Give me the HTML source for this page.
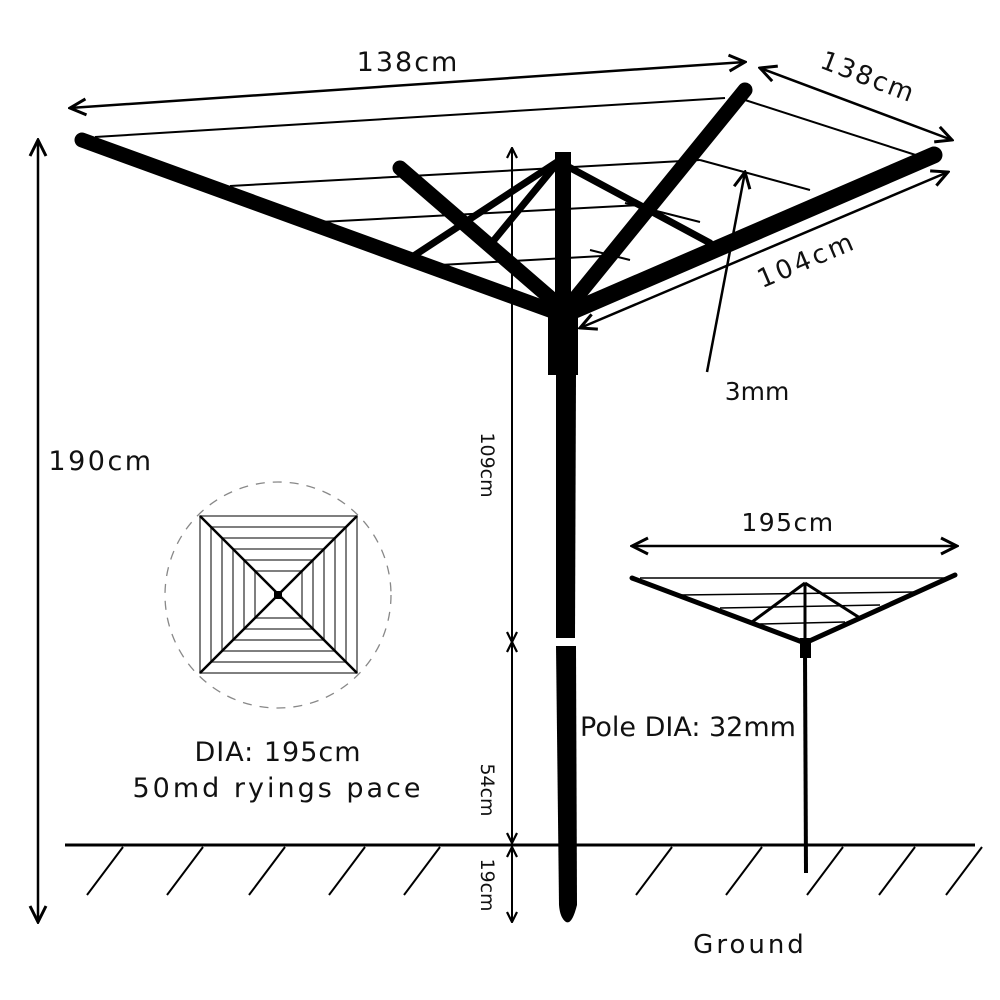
<!DOCTYPE html>
<html><head><meta charset="utf-8"><style>
html,body{margin:0;padding:0;background:#fff}
svg{display:block}
text{font-family:"DejaVu Sans","Liberation Sans",sans-serif;fill:#111}
</style></head><body>
<svg width="1000" height="1000" viewBox="0 0 1000 1000" xmlns="http://www.w3.org/2000/svg">
<defs>
<marker id="a" viewBox="0 0 12 12" refX="11" refY="6" markerWidth="12" markerHeight="12" orient="auto-start-reverse" markerUnits="userSpaceOnUse">
<path d="M1,1 L11,6 L1,11" fill="none" stroke="#000" stroke-width="2.2"/></marker>
<marker id="b" viewBox="0 0 20 20" refX="18" refY="10" markerWidth="20" markerHeight="20" orient="auto-start-reverse" markerUnits="userSpaceOnUse">
<path d="M2,2 L18,10 L2,18" fill="none" stroke="#000" stroke-width="3"/></marker>
</defs>
<g stroke="#000" fill="none">
<g stroke-width="2">
<line x1="95" y1="137" x2="725" y2="98"/>
<line x1="230" y1="186" x2="700" y2="160"/>
<line x1="320" y1="222" x2="640" y2="205"/>
<line x1="440" y1="265" x2="620" y2="255"/>
<line x1="745" y1="100" x2="925" y2="158"/>
<line x1="700" y1="160" x2="810" y2="190"/>
<line x1="625" y1="203" x2="700" y2="222"/>
<line x1="590" y1="250" x2="630" y2="260"/>
</g>
<g stroke-width="7" stroke-linecap="round">
<line x1="560" y1="160" x2="415" y2="255"/>
<line x1="560" y1="160" x2="490" y2="245"/>
<line x1="565" y1="165" x2="710" y2="243"/>
</g>
<g stroke-width="15" stroke-linecap="round">
<line x1="82" y1="140" x2="555" y2="312"/>
<line x1="400" y1="168" x2="555" y2="302"/>
<line x1="745" y1="90" x2="570" y2="305"/>
</g>
<line x1="934" y1="155" x2="575" y2="310" stroke-width="17" stroke-linecap="round"/>
<line x1="563" y1="152" x2="563" y2="320" stroke-width="16"/>
<rect x="548" y="305" width="30" height="70" fill="#000" stroke="none"/>
<path d="M556,375 L576,375 L575,638 L556,638 Z" fill="#000" stroke="none"/>
<path d="M556,646 L576,646 L577,905 Q572,925 566,922 Q560,918 559,905 Z" fill="#000" stroke="none"/>
<g stroke-width="2.5">
<line x1="70" y1="108" x2="745" y2="62" marker-start="url(#b)" marker-end="url(#b)"/>
<line x1="760" y1="68" x2="952" y2="140" marker-start="url(#b)" marker-end="url(#b)"/>
<line x1="580" y1="328" x2="948" y2="172" marker-start="url(#b)" marker-end="url(#b)"/>
<line x1="707" y1="372" x2="745" y2="172" marker-end="url(#b)"/>
<line x1="38" y1="140" x2="38" y2="922" marker-start="url(#b)" marker-end="url(#b)"/>
<line x1="632" y1="546" x2="957" y2="546" marker-start="url(#b)" marker-end="url(#b)"/>
</g>
<g stroke-width="2">
<line x1="512" y1="148" x2="512" y2="642" marker-start="url(#a)" marker-end="url(#a)"/>
<line x1="512" y1="642" x2="512" y2="843" marker-start="url(#a)" marker-end="url(#a)"/>
<line x1="512" y1="847" x2="512" y2="922" marker-start="url(#a)" marker-end="url(#a)"/>
</g>
<line x1="65" y1="845" x2="975" y2="845" stroke-width="3"/>
<g stroke-width="2">
<line x1="123" y1="847" x2="87" y2="895"/><line x1="203" y1="847" x2="167" y2="895"/>
<line x1="285" y1="847" x2="249" y2="895"/><line x1="365" y1="847" x2="329" y2="895"/>
<line x1="440" y1="847" x2="404" y2="895"/><line x1="672" y1="847" x2="636" y2="895"/>
<line x1="762" y1="847" x2="726" y2="895"/><line x1="843" y1="847" x2="807" y2="895"/>
<line x1="915" y1="847" x2="879" y2="895"/><line x1="982" y1="847" x2="946" y2="895"/>
</g>
<g stroke-width="1.5">
<line x1="640" y1="578" x2="950" y2="578"/>
<line x1="680" y1="595" x2="915" y2="592"/>
<line x1="720" y1="608" x2="880" y2="605"/>
<line x1="760" y1="624" x2="845" y2="622"/>
</g>
<g stroke-width="3">
<line x1="805" y1="583" x2="752" y2="622"/>
<line x1="805" y1="583" x2="860" y2="618"/>
</g>
<g stroke-width="5" stroke-linecap="round">
<line x1="632" y1="578" x2="805" y2="643"/>
<line x1="955" y1="575" x2="805" y2="643"/>
</g>
<line x1="805" y1="583" x2="805" y2="645" stroke-width="3"/>
<rect x="800" y="638" width="11" height="20" fill="#000" stroke="none"/>
<line x1="805" y1="655" x2="806" y2="873" stroke-width="4"/>
<circle cx="278" cy="595" r="113" stroke="#888" stroke-width="1.3" stroke-dasharray="9,8"/>
<g stroke="#555" stroke-width="1.5">
<rect x="200" y="516" width="157" height="157"/>
<rect x="211" y="527" width="135" height="135"/>
<rect x="222" y="538" width="113" height="113"/>
<rect x="233" y="549" width="91" height="91"/>
<rect x="244" y="560" width="69" height="69"/>
<rect x="255" y="571" width="47" height="47"/>
</g>
<g stroke="#000" stroke-width="2.5">
<line x1="200" y1="516" x2="357" y2="673"/><line x1="357" y1="516" x2="200" y2="673"/>
</g>
<rect x="274" y="591" width="8" height="8" fill="#000" stroke="none"/>
</g>
<text x="408" y="71" font-size="27" text-anchor="middle" letter-spacing="2">138cm</text>
<text x="865" y="85" font-size="26" text-anchor="middle" letter-spacing="2" transform="rotate(21 865 85)">138cm</text>
<text x="810" y="268" font-size="26" text-anchor="middle" letter-spacing="3" transform="rotate(-23 810 268)">104cm</text>
<text x="757" y="400" font-size="25" text-anchor="middle">3mm</text>
<text x="101" y="470" font-size="27" text-anchor="middle" letter-spacing="2.5">190cm</text>
<text x="788" y="531" font-size="25" text-anchor="middle" letter-spacing="1.5">195cm</text>
<text x="688" y="736" font-size="27" text-anchor="middle">Pole DIA: 32mm</text>
<text x="278" y="761" font-size="27" text-anchor="middle" letter-spacing="1">DIA: 195cm</text>
<text x="278" y="797" font-size="27" text-anchor="middle" letter-spacing="3">50md ryings pace</text>
<text x="750" y="953" font-size="26" text-anchor="middle" letter-spacing="3">Ground</text>
<text x="0" y="0" font-size="19" text-anchor="middle" transform="translate(481 465) rotate(90)">109cm</text>
<text x="0" y="0" font-size="19" text-anchor="middle" transform="translate(481 790) rotate(90)">54cm</text>
<text x="0" y="0" font-size="19" text-anchor="middle" transform="translate(481 885) rotate(90)">19cm</text>
</svg>
</body></html>
